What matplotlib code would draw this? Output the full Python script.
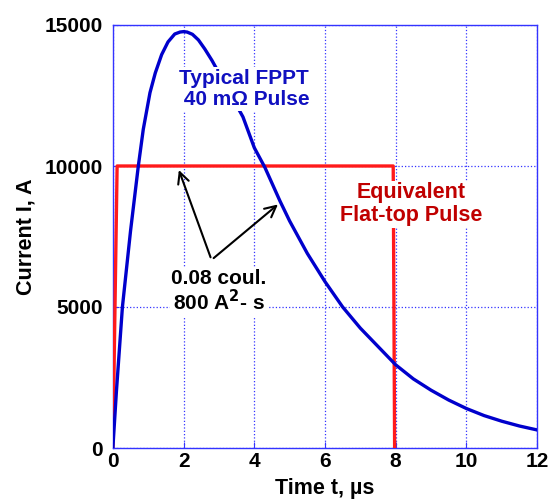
import matplotlib
matplotlib.use('Agg')
import matplotlib.pyplot as plt

# Blue curve: typical FPPT 40 mOhm pulse
t_fppt = [0, 0.1, 0.27, 0.5, 0.72, 0.86, 1.05, 1.2, 1.38, 1.56, 1.75, 1.9, 2.0,
          2.1, 2.25, 2.42, 2.6, 2.8, 3.0, 3.3, 3.68, 4.0, 4.3, 4.73, 5.0, 5.5, 6.0,
          6.5, 7.0, 7.5, 8.0, 8.5, 9.0, 9.5, 10.0, 10.5, 11.0, 11.5, 12.0]
i_fppt = [0, 2000, 5000, 7700, 10000, 11300, 12600, 13300, 13950, 14400, 14680, 14750,
          14765, 14750, 14670, 14470, 14150, 13750, 13300, 12600, 11740, 10650, 9950,
          8750, 8050, 6900, 5900, 5000, 4250, 3600, 2950, 2450, 2050, 1700, 1400, 1150,
          950, 780, 640]

# Red curve: equivalent flat-top pulse
t_flat = [0, 0.12, 7.93, 7.97]
i_flat = [0, 10000, 10000, 0]

xticks = [0, 2, 4, 6, 8, 10, 12]
yticks = [0, 5000, 10000, 15000]

plt.rcParams['font.family'] = ['Liberation Sans', 'DejaVu Sans']
plt.rcParams['font.weight'] = 'bold'

fig = plt.figure(figsize=(5.56, 5.0), dpi=100)
ax = fig.add_axes([0.203, 0.104, 0.763, 0.846])

ax.plot(t_flat, i_flat, color='#ff1a1a', lw=2.4, zorder=3)
ax.plot(t_fppt, i_fppt, color='#0000cc', lw=2.4, zorder=4)

ax.set_xlim(0, 12)
ax.set_ylim(0, 15000)
ax.set_xticks(xticks)
ax.set_yticks(yticks)
ax.tick_params(direction='in', length=4, color='#3333ff', labelsize=15)
ax.tick_params(axis='x', pad=3)
ax.tick_params(axis='y', pad=7)
for lab in ax.get_xticklabels() + ax.get_yticklabels():
    lab.set_fontweight('bold')
for s in ax.spines.values():
    s.set_color('#3333ff')
    s.set_linewidth(1.0)
ax.grid(True, color='#3333ff', linestyle=':', linewidth=0.9)
ax.set_axisbelow(True)

ax.set_xlabel('Time t, µs', fontsize=15.5, fontweight='bold', labelpad=5)
ax.set_ylabel('Current I, A', fontsize=15.5, fontweight='bold', labelpad=6)

box = dict(facecolor='white', edgecolor='none', pad=1)
ax.text(3.71, 12730, 'Typical FPPT\n 40 m\u03a9 Pulse', color='#1010c0', fontsize=15,
        fontweight='bold', ha='center', va='center', linespacing=1.15, bbox=box, zorder=5)
ax.text(8.43, 8650, 'Equivalent\nFlat-top Pulse', color='#c00000', fontsize=15.5,
        fontweight='bold', ha='center', va='center', linespacing=1.15, bbox=box, zorder=5)
ax.text(3.0, 5530, '0.08 coul.\n800 A$^\\mathbf{2}$- s', color='black', fontsize=15,
        fontweight='bold', ha='center', va='center', linespacing=1.05, bbox=box, zorder=5)

arrow = dict(arrowstyle='->', color='black', lw=1.5, mutation_scale=20)
ax.annotate('', xy=(1.84, 9950), xytext=(2.79, 6670), arrowprops=arrow, zorder=6)
ax.annotate('', xy=(4.73, 8700), xytext=(2.79, 6670), arrowprops=arrow, zorder=6)

fig.savefig('out.png', dpi=100)
